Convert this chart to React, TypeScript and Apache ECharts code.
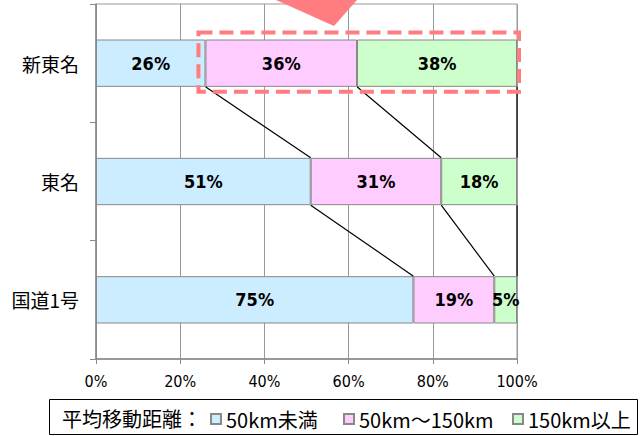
import React, { useEffect, useRef } from "react";
import * as echarts from "echarts";

const categories = ["新東名", "東名", "国道1号"];
const seriesNames = ["50km未満", "50km～150km", "150km以上"];
const under50 = [26, 51, 75.4];
const mid50to150 = [36, 31, 19.2];
const over150 = [38, 18, 5.4];
const xTickValues = [0, 20, 40, 60, 80, 100];
const legendTitle = "平均移動距離：";

const colors = ["#CCECFF", "#FFCCFF", "#CCFFCC"];
const BAR_RATIO = 0.4;
const CJK = "'Noto Sans CJK JP', 'Noto Sans', sans-serif";
const NARROW = "'Liberation Sans Narrow', 'DejaVu Sans Condensed', 'Noto Sans CJK JP', sans-serif";

export default function App() {
  const ref = useRef<HTMLDivElement>(null);
  useEffect(() => {
    if (!ref.current) return;
    const chart = echarts.init(ref.current, null, { renderer: "svg" });
    const seriesData = [under50, mid50to150, over150];

    const cum = categories.map((_, i) => {
      const a = under50[i];
      const b = a + mid50to150[i];
      const c = b + over150[i];
      return [a, b, c];
    });
    const connectors: number[][] = [];
    for (let i = 0; i < categories.length - 1; i++) {
      for (let k = 0; k < 3; k++) {
        connectors.push([cum[i][k], i, cum[i + 1][k], i + 1]);
      }
    }
    const highlight = [[under50[0], 0, cum[0][2]]];

    const barSeries = seriesNames.map((name, s) => ({
      name,
      type: "bar",
      stack: "total",
      barWidth: "40%",
      data: seriesData[s],
      itemStyle: { color: colors[s], borderColor: "#888888", borderWidth: 1 },
      label: {
        show: true,
        position: "inside",
        formatter: (p: any) => Math.round(p.value) + "%",
        fontFamily: NARROW,
        fontWeight: "bold",
        fontSize: 18,
        color: "#000",
      },
      emphasis: { disabled: true },
      z: 2,
    }));

    chart.setOption({
      animation: false,
      backgroundColor: "#fff",
      grid: {
        left: 96,
        top: 4,
        right: 127,
        bottom: 77,
        show: true,
        borderColor: "#999",
        borderWidth: 1,
        backgroundColor: "transparent",
      },
      xAxis: {
        type: "value",
        min: 0,
        max: 100,
        interval: 20,
        axisLine: { show: true, lineStyle: { color: "#888", width: 1.5 } },
        axisTick: { show: true, length: 5, lineStyle: { color: "#888" } },
        splitLine: { show: true, lineStyle: { color: "#999", width: 1 } },
        axisLabel: {
          formatter: (v: number) => (xTickValues.includes(v) ? v + "%" : ""),
          fontFamily: NARROW,
          fontSize: 16,
          color: "#000",
          margin: 14,
        },
      },
      yAxis: {
        type: "category",
        inverse: true,
        data: categories,
        axisLine: { show: true, lineStyle: { color: "#888", width: 1.5 } },
        axisTick: { show: true, length: 6, lineStyle: { color: "#888" } },
        splitLine: { show: false },
        axisLabel: { fontFamily: CJK, fontSize: 19, color: "#000", margin: 17 },
      },
      legend: seriesNames.map((name, i) => ({
        data: [name],
        left: [210, 343, 512][i],
        top: 409,
        padding: 0,
        icon: "rect",
        itemWidth: 10,
        itemHeight: 10,
        selectedMode: false,
        textStyle: { fontFamily: CJK, fontSize: 20, color: "#000" },
      })),
      graphic: [
        {
          type: "rect",
          shape: { x: 49.5, y: 399.5, width: 588, height: 35 },
          style: { fill: "#fff", stroke: "#000", lineWidth: 1 },
          z: -1,
        },
        {
          type: "text",
          x: 62,
          y: 418,
          style: {
            text: legendTitle,
            fontFamily: CJK,
            fontSize: 20,
            fill: "#000",
            verticalAlign: "middle",
          },
        },
        {
          type: "polygon",
          shape: { points: [[276, 0], [357, 0], [334, 26]] },
          style: { fill: "#FF7C80" },
          z: 100,
        },
      ],
      series: [
        ...barSeries,
        {
          name: "connectors",
          type: "custom",
          coordinateSystem: "cartesian2d",
          clip: false,
          silent: true,
          encode: { x: [0, 2], y: [1, 3] },
          data: connectors,
          renderItem: (params: any, api: any) => {
            const p1 = api.coord([api.value(0), api.value(1)]);
            const p2 = api.coord([api.value(2), api.value(3)]);
            const half = (api.size([0, 1])[1] * BAR_RATIO) / 2;
            return {
              type: "line",
              shape: { x1: p1[0], y1: p1[1] + half, x2: p2[0], y2: p2[1] - half },
              style: { stroke: "#000", lineWidth: 1.2 },
            };
          },
          z: 3,
        },
        {
          name: "highlight",
          type: "custom",
          coordinateSystem: "cartesian2d",
          clip: false,
          silent: true,
          encode: { x: [0, 2], y: 1 },
          data: highlight,
          renderItem: (params: any, api: any) => {
            const p1 = api.coord([api.value(0), api.value(1)]);
            const p2 = api.coord([api.value(2), api.value(1)]);
            const half = (api.size([0, 1])[1] * BAR_RATIO) / 2;
            return {
              type: "rect",
              shape: {
                x: p1[0] - 7,
                y: p1[1] - half - 7,
                width: p2[0] - p1[0] + 9,
                height: 2 * half + 12,
              },
              style: { fill: "none", stroke: "#FF7C80", lineWidth: 4, lineDash: [14, 7] },
            };
          },
          z: 10,
        },
      ],
    });
    return () => chart.dispose();
  }, []);
  return (
    <div
      ref={ref}
      style={{ position: "fixed", left: 0, top: 0, width: 644, height: 436 }}
    />
  );
}
